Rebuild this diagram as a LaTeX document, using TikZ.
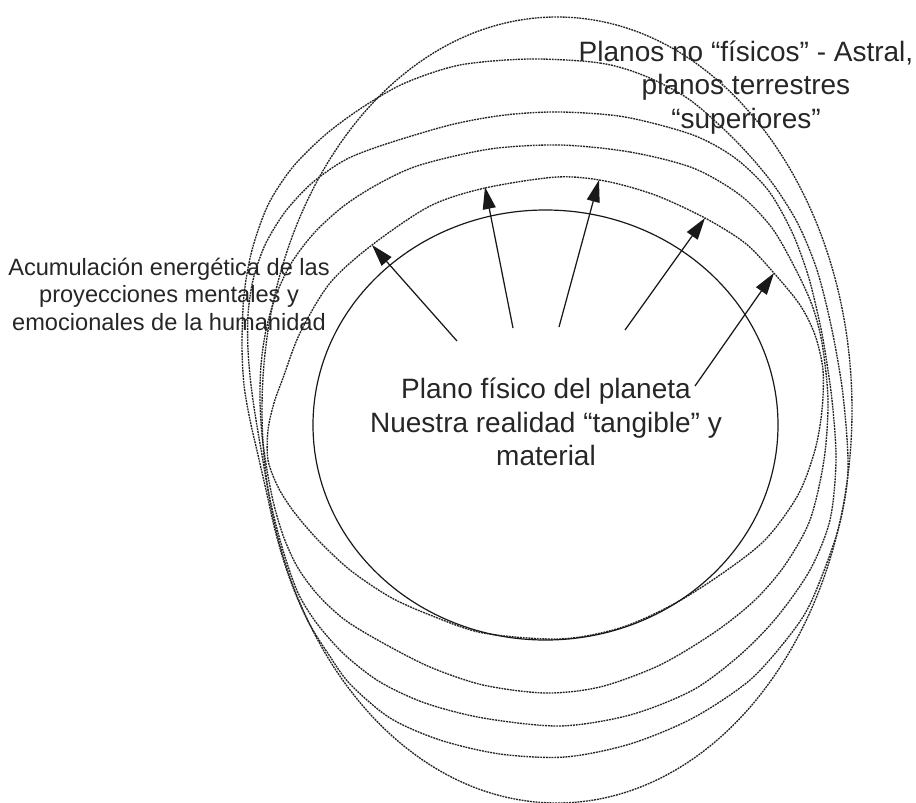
\documentclass[tikz,border=0pt]{standalone}
\usepackage{fontspec}
\setmainfont{Liberation Sans}
\usetikzlibrary{arrows.meta}
\begin{document}
\begin{tikzpicture}[x=1pt,y=-1pt,
  dotline/.style={line width=1.35pt, dash pattern=on 1.9pt off 0.9pt, black!85},
  solidline/.style={line width=1.2pt, black!90},
  arr/.style={line width=1.25pt, black!90, -{Triangle[length=22pt,width=13pt]}},
  bigtxt/.style={font=\fontsize{28}{33.5}\selectfont, inner sep=0pt, anchor=base, text=black!85},
  smalltxt/.style={font=\fontsize{23.6}{28}\selectfont, inner sep=0pt, anchor=base, text=black!85}
]
\useasboundingbox (0,0) rectangle (916,803);

% outer dashed shapes
\draw[dotline] (557,410) ellipse [x radius=295, y radius=393];
\draw[dotline] plot[smooth cycle, tension=0.5] coordinates {
  (530,59) (600,63) (645,76) (690,100) (735,140) (770,180) (797,222) (817,270)
  (832,330) (843,395) (848,470) (838,530) (812,600) (790,635) (750,680) (693,718)
  (630,744) (565,757) (500,754) (440,740) (390,718) (350,684) (329,655) (310,625)
  (296,595) (285,565) (275,530) (266,490) (258,455) (250,420) (244,385) (242,345)
  (244,295) (252,250) (268,205) (292,168) (325,135) (363,107) (405,83) (460,65)};
\draw[dotline] plot[smooth cycle, tension=0.5] coordinates {
  (560,112) (625,117) (693,135) (735,158) (768,190) (792,232) (808,275) (818,315)
  (824,345) (832,400) (836,460) (830,520) (810,570) (777,617) (740,655) (693,690)
  (630,715) (560,726) (483,718) (425,703) (380,682) (345,655) (318,625) (299,595)
  (286,560) (276,525) (268,490) (262,455) (256,420) (251,385) (248,350) (248,315)
  (253,280) (265,245) (285,212) (312,183) (345,160) (383,145) (450,125) (505,115)};
\draw[dotline] plot[smooth cycle, tension=0.5] coordinates {
  (560,145) (630,152) (693,168) (740,195) (772,228) (795,268) (812,305) (822,343)
  (828,400) (824,460) (810,520) (785,565) (755,600) (715,632) (660,665) (600,687)
  (545,693) (483,685) (430,667) (383,643) (345,620) (318,595) (298,568) (284,538)
  (274,505) (267,470) (262,435) (260,400) (261,365) (266,330) (276,295) (292,262)
  (315,232) (345,205) (380,183) (420,165) (490,149)};
\draw[dotline] plot[smooth cycle, tension=0.5] coordinates {
  (557,177) (605,181) (655,195) (705,218) (745,243) (773,272) (800,305) (815,335)
  (823,370) (822,410) (815,450) (798,495) (765,540) (720,575) (672,605) (620,628)
  (560,639) (483,633) (430,615) (390,597) (350,570) (318,540) (294,512) (278,487)
  (268,460) (268,430) (274,403) (283,378) (300,333) (330,283) (372,245) (430,206)
  (485,188)};

% planet
\draw[solidline] (545.5,425) ellipse [x radius=232.5, y radius=215];

% arrows
\coordinate (s1) at (457,341); \coordinate (t1) at (372,245);
\coordinate (s2) at (513,328); \coordinate (t2) at (485,187);
\coordinate (s3) at (559,327); \coordinate (t3) at (599,180);
\coordinate (s4) at (625,330); \coordinate (t4) at (705,218);
\coordinate (s5) at (695,386); \coordinate (t5) at (774,273);
\draw[arr] (s1) -- (t1);
\draw[arr] (s2) -- (t2);
\draw[arr] (s3) -- (t3);
\draw[arr] (s4) -- (t4);
\draw[arr] (s5) -- (t5);

% texts
\node[bigtxt] (c1) at (546,398) {Plano físico del planeta};
\node[bigtxt] (c2) at (546,432) {Nuestra realidad “tangible” y};
\node[bigtxt] (c3) at (546,465) {material};
\node[bigtxt] (r1) at (746,61) {Planos no “físicos” - Astral,};
\node[bigtxt] (r2) at (746,94.5) {planos terrestres};
\node[bigtxt] (r3) at (746,128) {“superiores”};
\node[smalltxt] (l1) at (169,275) {Acumulación energética de las};
\node[smalltxt] (l2) at (169,302.5) {proyecciones mentales y};
\node[smalltxt] (l3) at (169,330) {emocionales de la humanidad};
\end{tikzpicture}
\end{document}
